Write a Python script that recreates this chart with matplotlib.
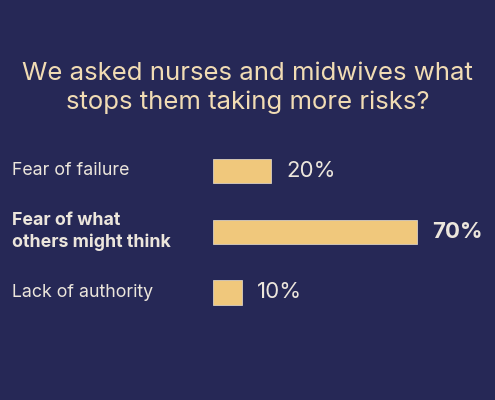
import matplotlib
matplotlib.use("Agg")
import matplotlib.pyplot as plt
import matplotlib.transforms as mtransforms

BG = "#262856"
BAR = "#f0c87c"
TITLE_COL = "#f1dcb4"
LABEL_COL = "#ece6dc"

categories = ["Fear of failure", "Fear of what\nothers might think", "Lack of authority"]
values = [20, 70, 10]
value_labels = ["20%", "70%", "10%"]
highlight = [False, True, False]

plt.rcParams["font.family"] = ["Inter", "DejaVu Sans"]

fig = plt.figure(figsize=(4.95, 4.0), dpi=100, facecolor=BG)
fig.text(0.5, 0.78, "We asked nurses and midwives what\nstops them taking more risks?",
         ha="center", va="center", color=TITLE_COL, fontsize=18.5, linespacing=1.25)

ax = fig.add_axes([213 / 495, 0.2, 1 - 213 / 495, 0.45])
ax.set_facecolor(BG)
ypos = list(range(len(categories)))
ax.barh(ypos, values, height=0.4, color=BAR, edgecolor="#d9cfc0", linewidth=0.6)
ax.set_xlim(0, 97)
ax.set_ylim(2.453, -0.51)
ax.axis("off")

lab_tr = mtransforms.blended_transform_factory(fig.transFigure, ax.transData)
for y, cat, v, vl, hl in zip(ypos, categories, values, value_labels, highlight):
    w = "bold" if hl else "normal"
    ax.text(12 / 495, y, cat, transform=lab_tr, ha="left", va="center",
            color=LABEL_COL, fontsize=12.8, fontweight=w, linespacing=1.35)
    ax.annotate(vl, (v, y), xytext=(11, 0), textcoords="offset points",
                ha="left", va="center", color=LABEL_COL, fontsize=16, fontweight=w)

fig.savefig("out.png", dpi=100, facecolor=BG)
